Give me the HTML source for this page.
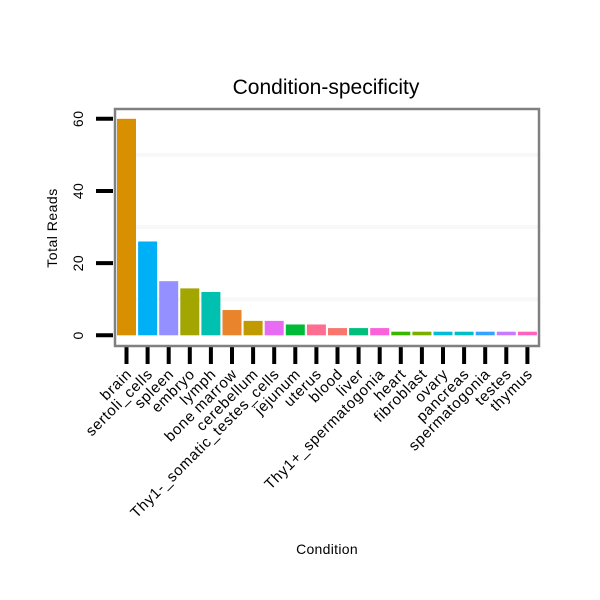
<!DOCTYPE html>
<html><head><meta charset="utf-8"><style>
html,body{margin:0;padding:0;background:#fff;}
svg{display:block;font-family:"Liberation Sans",sans-serif;}
</style></head><body>
<svg id="chart" width="600" height="600" viewBox="0 0 600 600">
<text x="326" y="94" font-size="21" text-anchor="middle">Condition-specificity</text>
<text transform="translate(57,228) rotate(-90)" font-size="14" letter-spacing="0.5" text-anchor="middle">Total Reads</text>
<text x="327" y="554" font-size="14" letter-spacing="0.3" text-anchor="middle">Condition</text>
<g id="grid"></g><g id="bars"></g><g id="axes"></g>
<rect x="115" y="109" width="424" height="237" fill="none" stroke="#808080" stroke-width="2.5"/>
</svg>
<script>
const categories=["brain","sertoli_cells","spleen","embryo","lymph","bone marrow","cerebellum","Thy1-_somatic_testes_cells","jejunum","uterus","blood","liver","Thy1+_spermatogonia","heart","fibroblast","ovary","pancreas","spermatogonia","testes","thymus"];
const values=[60,26,15,13,12,7,4,4,3,3,2,2,2,1,1,1,1,1,1,1];
const colors=["#D89000","#00B0F6","#9590FF","#A3A500","#00C0AF","#E9842C","#C09B00","#E76BF3","#00BA38","#FF6C91","#F8766D","#00BF7D","#FA62DB","#39B600","#7CAE00","#00BCD8","#00BFC4","#35A2FF","#C77CFF","#FF62BC"];
const yTicks=[0,20,40,60];
const yMinor=[10,30,50];
const NS="http://www.w3.org/2000/svg";
const y0=335.3, yScale=(335.3-118.8)/60;
function yPos(v){return y0-v*yScale;}
function xPos(i){return 126.5+i*21.1;}
const bw=19;
const grid=document.getElementById('grid'),bars=document.getElementById('bars'),axes=document.getElementById('axes');
function mk(tag,attrs,parent){const e=document.createElementNS(NS,tag);for(const k in attrs)e.setAttribute(k,attrs[k]);parent.appendChild(e);return e;}
yMinor.forEach(v=>{
  const l=mk('line',{x1:116,x2:538,y1:yPos(v),y2:yPos(v),stroke:'#f8f8f8','stroke-width':4},grid);
  
  
});
values.forEach((v,i)=>{
  const r=mk('rect',{x:xPos(i)-bw/2,y:yPos(v),width:bw,height:y0-yPos(v),fill:colors[i]},bars);
  
  
});
yTicks.forEach(v=>{
  const t=mk('line',{x1:96,x2:113,y1:yPos(v),y2:yPos(v),stroke:'#000','stroke-width':4},axes);
  
  
  const tx=mk('text',{transform:`translate(83,${yPos(v)}) rotate(-90)`,'font-size':14,'letter-spacing':0.5,'text-anchor':'middle'},axes);
  tx.textContent=v;
  
  
});
categories.forEach((c,i)=>{
  const t=mk('line',{x1:xPos(i),x2:xPos(i),y1:347,y2:364,stroke:'#000','stroke-width':4},axes);
  
  
  const tx=mk('text',{transform:`translate(${xPos(i)+6},${375}) rotate(-45)`,'font-size':15,'letter-spacing':0.7,'text-anchor':'end'},axes);
  tx.textContent=c;
  
  
});
</script>
</body></html>
